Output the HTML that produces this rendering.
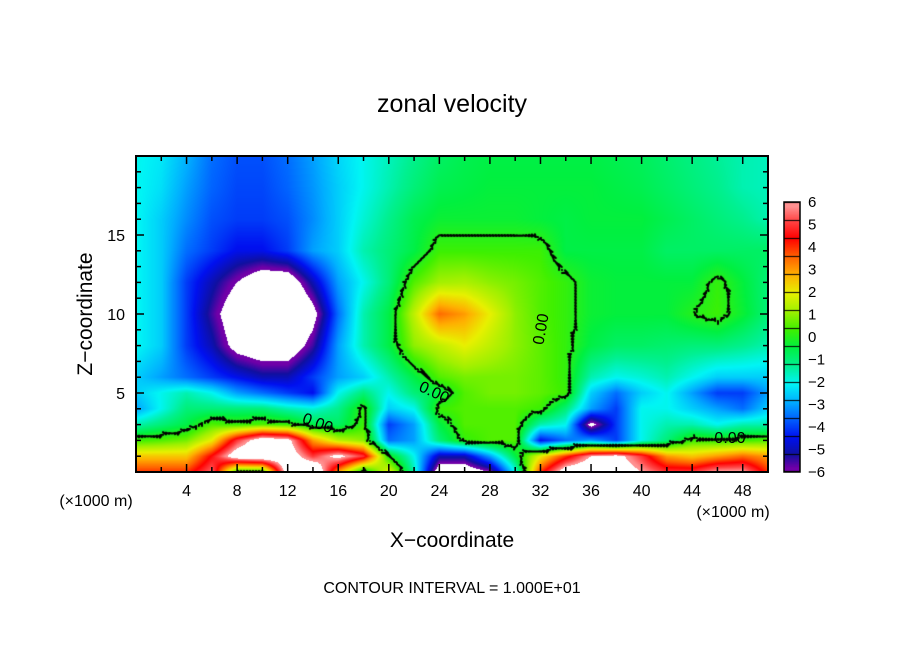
<!DOCTYPE html>
<html><head><meta charset="utf-8">
<style>
body{margin:0;background:#fff;width:904px;height:654px;overflow:hidden;font-family:"Liberation Sans","DejaVu Sans",sans-serif;}
#wrap{position:relative;width:904px;height:654px;}
canvas{position:absolute;left:136px;top:156px;}
svg{position:absolute;left:0;top:0;}
</style></head>
<body>
<div id="wrap">
<canvas id="field" width="632" height="316"></canvas>
<canvas id="cbar" width="16" height="270" style="left:784px;top:202px;"></canvas>
<svg id="ov" width="904" height="654"></svg>
</div>
<script>
// ---- data ----
const xGrid = [0,2,4,6,8,10,12,14,16,18,20,22,24,26,28,30,32,34,36,38,40,42,44,46,48,50];
const zGrid = [0,1,2,3,4,5,6,8,10,12,14,16,18,20];
const u_z0  = [4,4,4,5.5,0,0,7,8,3,-0.5,2,-1.5,-7,-7,-6,-2,4,7,7.5,7,6,5,5,6,6,4];
const u_z1  = [2.5,2.5,2.5,4.5,7,7.5,7,5,6.5,5,0,-2,-5,-5,-3,-0.5,2,4,6,6.5,5,3,2.5,3,3.5,3];
const u_z2  = [0.3,0.5,0.8,2,5,7,6.5,3,1.5,1,-3.5,-3,-1,0.2,0.5,0.5,-4.5,-3.5,-3,-4,-2,-1,0.3,0.2,0.3,0.5];
const u_z3  = [-1.5,-1,-0.5,0.5,0.3,0.5,0.3,-0.5,-0.8,0.3,-4,-3,-0.5,0.5,0.5,0.5,-1.5,-2,-6.5,-4,-2,-1.5,-1.5,-2,-1.5,-1.5];
const u_z4  = [-3,-2,-1,-1,-1,-1,-1.5,-1.8,-1.2,0.2,-2.5,-2,0.3,0.5,0.5,0.5,0.3,-1,-3,-4,-2,-2,-2.5,-3,-3.5,-2.5];
const u_z5  = [-2.5,-2,-1.5,-2,-3,-3.5,-4,-4.5,-2,-1,-2,-1,-0.5,0.5,0.8,0.8,0.6,0.3,-2.5,-3.5,-2.5,-2,-3,-4,-4,-3];
const u_z6  = [-2.5,-3,-3.5,-4,-4.5,-5,-5,-4,-3,-2.5,-1.5,-0.5,0.5,0.8,0.8,0.8,0.6,0.2,-1.5,-2,-1.8,-1.5,-2,-2.5,-2.5,-2.5];
const u_z8  = [-2,-2.5,-4,-5,-6.5,-7,-7,-5.5,-3,-1.5,-0.5,1,1.5,2,1.5,1,0.6,0.2,-0.5,-0.8,-0.8,-0.9,-1,-1,-1.2,-1.5];
const u_z10 = [-2,-2.5,-4,-5.5,-7,-8,-8,-6.5,-3.5,-1.5,-0.5,1.5,3.5,3,2,1,0.5,0.2,-0.3,-0.4,-0.4,-0.4,0,0.3,-0.3,-1];
const u_z12 = [-2,-2.5,-4,-5,-6,-7,-7,-5,-3,-2,-1,0.5,1.2,1.3,1,0.8,0.5,0.2,-0.3,-0.4,-0.4,-0.4,-0.4,0.2,-0.4,-1];
const u_z14 = [-2,-2.5,-3.5,-4,-4.5,-4.5,-4,-3,-2.5,-1.5,-1,-0.5,0.3,0.3,0.3,0.3,0.3,-0.5,-0.5,-0.5,-0.5,-0.8,-0.8,-0.8,-0.8,-0.8];
const u_z16 = [-2,-2.5,-3.2,-3.8,-4,-4,-3.8,-3.2,-2.5,-1.8,-1.2,-0.6,-0.3,-0.3,-0.3,-0.3,-0.4,-0.5,-0.4,-0.4,-0.4,-0.6,-0.8,-1,-1.2,-1.5];
const u_z18 = [-2,-2.3,-3,-3.6,-3.9,-3.9,-3.6,-3.1,-2.5,-2,-1.5,-1,-0.6,-0.5,-0.4,-0.4,-0.4,-0.4,-0.4,-0.5,-0.6,-0.8,-1,-1.2,-1.5,-1.6];
const u_z20 = [-2,-2.2,-2.8,-3.5,-3.8,-3.8,-3.5,-3,-2.4,-2,-1.6,-1.2,-0.8,-0.6,-0.5,-0.5,-0.5,-0.5,-0.5,-0.6,-0.7,-0.9,-1.1,-1.3,-1.5,-1.6];
const rows = [u_z0,u_z1,u_z2,u_z3,u_z4,u_z5,u_z6,u_z8,u_z10,u_z12,u_z14,u_z16,u_z18,u_z20];
const xTickLabels = [4,8,12,16,20,24,28,32,36,40,44,48];
const zTickLabels = [5,10,15];
const cbarLabels = [6,5,4,3,2,1,0,-1,-2,-3,-4,-5,-6];
const cmapVals = [-6,-5.8,-5.2,-4.44,-3.64,-2.84,-2.06,-1.24,-0.44,0.36,1.16,1.99,2.79,3.61,4.41,5.21,5.81,6];
const cmapCols = ['#7000a8','#7000a8','#1010a0','#0010f0','#0060ff','#00b0ff','#00f5f5','#00f090','#00f040','#40f000','#a0f000','#e8f000','#ffb000','#ff6000','#ff0000','#ff4848','#ff9090','#ff9090'];

// ---- axes ----
const PX=136, PY=156, PW=632, PH=316;
const sx = x => PX + x/50*PW;
const sz = z => PY + PH - z/20*PH;

function hex(c){return [parseInt(c.substr(1,2),16),parseInt(c.substr(3,2),16),parseInt(c.substr(5,2),16)];}
const cmapRGB = cmapCols.map(hex);
function color(v){
  if(v>6||v<-6) return [255,255,255];
  for(let i=0;i<cmapVals.length-1;i++){
    if(v<=cmapVals[i+1]){
      const t=(v-cmapVals[i])/(cmapVals[i+1]-cmapVals[i]||1);
      const a=cmapRGB[i],b=cmapRGB[i+1];
      return [a[0]+(b[0]-a[0])*t,a[1]+(b[1]-a[1])*t,a[2]+(b[2]-a[2])*t];
    }
  }
  return cmapRGB[cmapRGB.length-1];
}
function idx(arr,v){
  let i=0; while(i<arr.length-2 && v>arr[i+1]) i++;
  const t=Math.max(0,Math.min(1,(v-arr[i])/(arr[i+1]-arr[i])));
  return [i,t];
}
function val(x,z){
  const [i,tx]=idx(xGrid,x), [j,tz]=idx(zGrid,z);
  const a=rows[j][i],b=rows[j][i+1],c=rows[j+1][i],d=rows[j+1][i+1];
  return (a*(1-tx)+b*tx)*(1-tz)+(c*(1-tx)+d*tx)*tz;
}
// field
const cv=document.getElementById('field'),ctx=cv.getContext('2d');
const img=ctx.createImageData(PW,PH);
for(let py=0;py<PH;py++){for(let px=0;px<PW;px++){
  const x=(px+0.5)/PW*50, z=(PH-py-0.5)/PH*20;
  const c=color(val(x,z)); const k=(py*PW+px)*4;
  img.data[k]=c[0];img.data[k+1]=c[1];img.data[k+2]=c[2];img.data[k+3]=255;
}}
ctx.putImageData(img,0,0);
// zero contour (marching squares)
ctx.strokeStyle='#000';ctx.lineWidth=2;ctx.lineCap='round';ctx.beginPath();
const S=3, nx=Math.ceil(PW/S), ny=Math.ceil(PH/S);
const g=[];for(let j=0;j<=ny;j++){g[j]=[];for(let i=0;i<=nx;i++){g[j][i]=val(Math.min(50,i*S/PW*50),Math.max(0,20-j*S/PH*20));}}
for(let j=0;j<ny;j++)for(let i=0;i<nx;i++){
  const a=g[j][i],b=g[j][i+1],c=g[j+1][i+1],d=g[j+1][i];
  const pts=[];
  if((a>0)!==(b>0)) pts.push([(i+a/(a-b))*S,j*S]);
  if((b>0)!==(c>0)) pts.push([(i+1)*S,(j+b/(b-c))*S]);
  if((c>0)!==(d>0)) pts.push([(i+c/(c-d))*S,(j+1)*S]);
  if((d>0)!==(a>0)) pts.push([i*S,(j+d/(d-a))*S]);
  for(let k=0;k+1<pts.length;k+=2){ctx.moveTo(pts[k][0],pts[k][1]);ctx.lineTo(pts[k+1][0],pts[k+1][1]);}
}
ctx.stroke();
// colorbar
const cb=document.getElementById('cbar').getContext('2d');
for(let y=0;y<270;y++){const v=6-y/270*12;const c=color(Math.max(-5.99,Math.min(5.99,v)));cb.fillStyle=`rgb(${c[0]|0},${c[1]|0},${c[2]|0})`;cb.fillRect(0,y,16,1);}
cb.fillStyle='#000';for(let k=0;k<=15;k++){cb.fillRect(0,Math.min(269,Math.round(k*18)),16,1);}

// ---- overlay ----
const NS='http://www.w3.org/2000/svg', ov=document.getElementById('ov');
function el(t,attrs,txt){const e=document.createElementNS(NS,t);for(const k in attrs)e.setAttribute(k,attrs[k]);if(txt!==undefined)e.textContent=txt;ov.appendChild(e);return e;}
let e;
e=el('rect',{x:PX,y:PY,width:PW,height:PH,fill:'none',stroke:'#000','stroke-width':2});


e=el('rect',{x:784,y:202,width:16,height:270,fill:'none',stroke:'#000','stroke-width':1.5});


for(let x=2;x<50;x+=2){const L=(x%4===0)?8:5;
  e=el('line',{x1:sx(x),x2:sx(x),y1:PY+PH,y2:PY+PH-L,stroke:'#000','stroke-width':1.5});
  
  
  e=el('line',{x1:sx(x),x2:sx(x),y1:PY,y2:PY+L,stroke:'#000','stroke-width':1.5});
  
  }
for(let z=1;z<20;z++){const L=(z%5===0)?8:5;
  e=el('line',{x1:PX,x2:PX+L,y1:sz(z),y2:sz(z),stroke:'#000','stroke-width':1.5});
  
  
  e=el('line',{x1:PX+PW,x2:PX+PW-L,y1:sz(z),y2:sz(z),stroke:'#000','stroke-width':1.5});
  
  }
xTickLabels.forEach(v=>{e=el('text',{x:sx(v),y:496,'font-size':16,'text-anchor':'middle'},String(v));
  
  });
zTickLabels.forEach(v=>{e=el('text',{x:125,y:sz(v)+6,'font-size':16,'text-anchor':'end'},String(v));
  
  });
cbarLabels.forEach((v,i)=>{e=el('text',{x:808,y:202+i*22.5+5,'font-size':15},v<0?'\u2212'+(-v):String(v));
  
  });
const texts=[
 ['chart-title',452,112,25,'middle','zonal velocity'],
 ['x-axis-title',452,547,21,'middle','X\u2212coordinate'],
 ['x-unit-left',96,506,16,'middle','(\u00d71000 m)'],
 ['x-unit-right',733,517,16,'middle','(\u00d71000 m)'],
 ['contour-interval-note',452,593,16,'middle','CONTOUR INTERVAL = 1.000E+01'],
 ['contour-label',730,443,16,'middle','0.00']
];
texts.forEach(t=>{e=el('text',{x:t[1],y:t[2],'font-size':t[3],'text-anchor':t[4]},t[5]);
  
  });
e=el('text',{x:92,y:314,'font-size':21,'text-anchor':'middle',transform:'rotate(-90 92 314)'},'Z\u2212coordinate');


[[316,428,20],[432,397,25],[546,330,-80]].forEach(p=>{
  e=el('text',{x:p[0],y:p[1],'font-size':16,'text-anchor':'middle',transform:`rotate(${p[2]} ${p[0]} ${p[1]})`},'0.00');
  
  });
</script>
</body></html>
